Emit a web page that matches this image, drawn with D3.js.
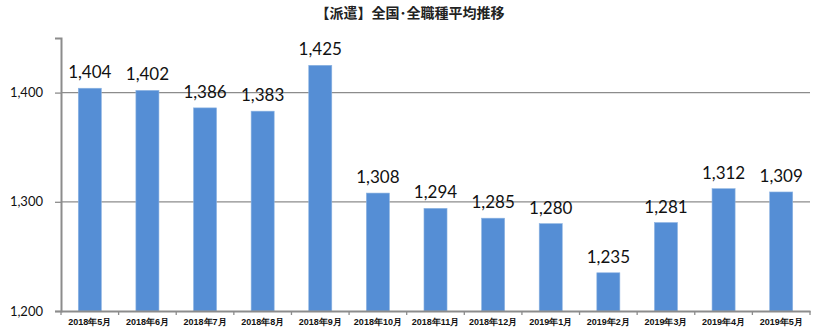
<!DOCTYPE html>
<html>
<head>
<meta charset="utf-8">
<script src="https://cdn.jsdelivr.net/npm/d3@7"></script>
<style>
  body { margin: 0; background: #fff; }
  svg { display: block; font-family: 'Noto Sans CJK JP', 'Liberation Sans', sans-serif; }
</style>
</head>
<body>
<svg id="chart" width="814" height="331"></svg>
<script>
const months = ['2018年5月', '2018年6月', '2018年7月', '2018年8月', '2018年9月', '2018年10月',
  '2018年11月', '2018年12月', '2019年1月', '2019年2月', '2019年3月', '2019年4月', '2019年5月'];
const wages = [1404, 1402, 1386, 1383, 1425, 1308, 1294, 1285, 1280, 1235, 1281, 1312, 1309];
const yTicks = [1200, 1300, 1400];
const title = '【派遣】全国･全職種平均推移';

const margin = { top: 38, right: 4, bottom: 20, left: 61 };
const svg = d3.select('#chart');
const width = +svg.attr('width');
const height = +svg.attr('height');

const x = d3.scaleBand()
  .domain(months)
  .range([margin.left, width - margin.right])
  .paddingInner(0.6)
  .paddingOuter(0.3);

const y = d3.scaleLinear()
  .domain([1200, 1450])
  .range([height - margin.bottom, margin.top]);

svg.append('text')
  .attr('x', 410)
  .attr('y', 18)
  .attr('text-anchor', 'middle')
  .attr('font-size', 14)
  .attr('font-weight', 'bold')
  .attr('fill', '#222')
  .text(title);

// gridlines
svg.append('g')
  .selectAll('line')
  .data(yTicks.filter(d => d > 1200))
  .join('line')
  .attr('x1', margin.left)
  .attr('x2', width - margin.right)
  .attr('y1', d => y(d))
  .attr('y2', d => y(d))
  .attr('stroke', '#8c8c8c')
  .attr('stroke-width', 1.3);

// bars
svg.append('g')
  .selectAll('rect')
  .data(months)
  .join('rect')
  .attr('x', d => x(d))
  .attr('width', x.bandwidth())
  .attr('y', (d, i) => y(wages[i]))
  .attr('height', (d, i) => y(1200) - y(wages[i]))
  .attr('fill', '#558ed5')
  .attr('stroke', '#8db4e2')
  .attr('stroke-width', 0.6);

// value labels
svg.append('g')
  .selectAll('text')
  .data(months)
  .join('text')
  .attr('x', d => x(d) + x.bandwidth() / 2)
  .attr('y', (d, i) => y(wages[i]) - 10)
  .attr('text-anchor', 'middle')
  .attr('font-family', 'Lato, sans-serif')
  .attr('font-size', 17)
  .attr('fill', '#111')
  .text((d, i) => d3.format(',')(wages[i]));

// y axis
const yAxis = svg.append('g')
  .attr('transform', `translate(${margin.left},0)`)
  .call(d3.axisLeft(y).tickValues(yTicks).tickSize(6).tickPadding(12).tickFormat(d3.format(',')));
yAxis.select('.domain').attr('stroke', '#8c8c8c').attr('stroke-width', 2);
yAxis.selectAll('.tick line').attr('stroke', '#8c8c8c').attr('stroke-width', 1.3);
yAxis.selectAll('.tick text')
  .attr('font-family', 'Lato, sans-serif')
  .attr('font-size', 13)
  .attr('fill', '#111');

// x axis
const xAxis = svg.append('g')
  .attr('transform', `translate(0,${y(1200)})`)
  .call(d3.axisBottom(x).tickSize(0).tickPadding(8));
xAxis.select('.domain').attr('stroke', '#8c8c8c').attr('stroke-width', 2);
xAxis.selectAll('.tick text')
  .attr('font-size', 9)
  .attr('font-weight', 'bold')
  .attr('fill', '#111');

// category boundary ticks
const bounds = d3.range(months.length + 1).map(i => margin.left + (width - margin.left - margin.right) * i / months.length);
xAxis.append('g')
  .selectAll('line')
  .data(bounds)
  .join('line')
  .attr('x1', d => d)
  .attr('x2', d => d)
  .attr('y1', 0)
  .attr('y2', 4)
  .attr('stroke', '#8c8c8c')
  .attr('stroke-width', 1.3);
</script>
</body>
</html>
